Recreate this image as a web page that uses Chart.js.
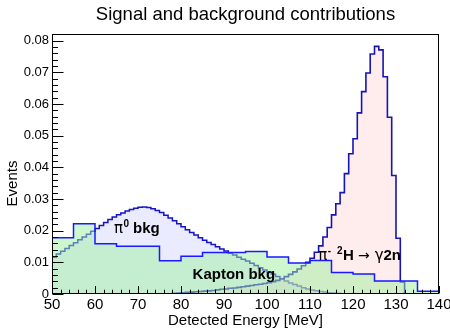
<!DOCTYPE html>
<html><head><meta charset="utf-8">
<script src="https://cdn.jsdelivr.net/npm/chart.js@4.4.1/dist/chart.umd.min.js"></script>
<style>html,body{margin:0;padding:0;background:#fff;}#wrap{width:450px;height:328px;}</style>
</head><body><div id="wrap"><canvas id="c" width="450" height="328"></canvas></div>
<script>
// ---- data (Events per bin) ----
const pi0BinStart = 50;   // MeV, 1 MeV bins
const pi0BinWidth = 1;
const pi0Values = [
  0.0116, 0.0126, 0.0135, 0.0144, 0.0153, 0.0162, 0.0171, 0.0180, 0.0189, 0.0198,
  0.0207, 0.0216, 0.0226, 0.0235, 0.0243, 0.0250, 0.0256, 0.0262, 0.0267, 0.0271,
  0.0274, 0.0275, 0.0273, 0.0269, 0.0264, 0.0257, 0.0249, 0.0240, 0.0231, 0.0222,
  0.0212, 0.0203, 0.0194, 0.0186, 0.0178, 0.0170, 0.0163, 0.0156, 0.0149, 0.0142,
  0.0136, 0.0129, 0.0123, 0.0116, 0.0110, 0.0104, 0.0097, 0.0090, 0.0083, 0.0076,
  0.0069, 0.0062, 0.0055, 0.0048, 0.0041, 0.0035, 0.0030, 0.0025, 0.0020, 0.0016,
  0.0013, 0.0010, 0.0008, 0.0006, 0.0004, 0.0003, 0.0002, 0.0001, 0.0001, 0.0001
];
const signalBinStart = 78; // MeV, 1 MeV bins
const signalBinWidth = 1;
const signalValues = [
  0.0002, 0.0003, 0.0004, 0.0005, 0.0006, 0.0007, 0.0008, 0.0009, 0.0010, 0.0011,
  0.0013, 0.0015, 0.0016, 0.0018, 0.0019, 0.0021, 0.0023, 0.0025, 0.0027, 0.0029,
  0.0031, 0.0033, 0.0036, 0.0039, 0.0043, 0.0048, 0.0055, 0.0062, 0.0070, 0.0079,
  0.0089, 0.0100, 0.0113, 0.0132, 0.0152, 0.0180, 0.0210, 0.0250, 0.0285, 0.0320,
  0.0380, 0.0443, 0.0490, 0.0572, 0.0639, 0.0698, 0.0758, 0.0782, 0.0771, 0.0686,
  0.0558, 0.0374, 0.0176, 0.0038
];
const kaptonBinStart = 50; // MeV, 5 MeV bins
const kaptonBinWidth = 5;
const kaptonValues = [
  0.0178, 0.0222, 0.0159, 0.0151, 0.0151, 0.0105, 0.0119, 0.0131, 0.0131,
  0.0134, 0.0117, 0.0098, 0.0106, 0.0068, 0.0063, 0.0041, 0.0041, 0.0009
];
const xTicks = [50, 60, 70, 80, 90, 100, 110, 120, 130, 140];
const xTickLabels = ['50', '60', '70', '80', '90', '100', '110', '120', '130', '140'];
const yTicks = [0, 0.01, 0.02, 0.03, 0.04, 0.05, 0.06, 0.07, 0.08];
const yTickLabels = ['0', '0.01', '0.02', '0.03', '0.04', '0.05', '0.06', '0.07', '0.08'];

function histPoints(start, width, values) {
  const pts = [{x: start, y: 0}];
  values.forEach((v, i) => pts.push({x: start + i * width, y: v}));
  pts.push({x: start + values.length * width, y: 0});
  return pts;
}

const FONT = "'Liberation Sans', Arial, Helvetica, sans-serif";
const SYM = "'DejaVu Sans', 'Liberation Sans', sans-serif";

function drawRich(ctx, x, y, parts) {
  for (const p of parts) {
    ctx.font = p.font;
    ctx.fillText(p.t, x, y - (p.dy || 0));
    x += ctx.measureText(p.t).width + (p.gap || 0);
  }
}

const rootFrame = {
  id: 'rootFrame',
  afterDatasetsDraw(chart) {
    const {ctx, chartArea: a, scales: {x, y}} = chart;
    ctx.save();
    ctx.strokeStyle = '#000';
    ctx.lineWidth = 1;
    const L = Math.round(a.left) + 0.5, R = Math.round(a.right) - 0.5;
    const T = Math.round(a.top) + 0.5, B = Math.round(a.bottom) - 0.5;
    ctx.strokeRect(L, T, R - L, B - T);
    ctx.beginPath();
    // x ticks (inward), every 2 MeV, major every 10
    for (let k = 25; k <= 70; k++) {
      const px = Math.round(x.getPixelForValue(2 * k)) + 0.5;
      const len = (k % 5 === 0) ? 7.5 : 3.8;
      ctx.moveTo(px, B); ctx.lineTo(px, B - len);
    }
    // y ticks (inward), every 0.002, major every 0.01
    for (let k = 0; k <= 41; k++) {
      const py = Math.round(y.getPixelForValue(k * 0.002)) + 0.5;
      const len = (k % 5 === 0) ? 11 : 5.5;
      ctx.moveTo(L, py); ctx.lineTo(L + len, py);
    }
    ctx.stroke();

    // annotations
    ctx.fillStyle = '#000';
    ctx.textAlign = 'left';
    ctx.textBaseline = 'alphabetic';
    drawRich(ctx, x.getPixelForValue(64.4), y.getPixelForValue(0.0192), [
      {t: 'π', font: '15px ' + SYM, gap: 0.5},
      {t: '0', font: 'bold 10px ' + FONT, dy: 6, gap: 4},
      {t: 'bkg', font: 'bold 15px ' + FONT}
    ]);
    drawRich(ctx, x.getPixelForValue(82.7), y.getPixelForValue(0.0048), [
      {t: 'Kapton bkg', font: 'bold 15px ' + FONT}
    ]);
    drawRich(ctx, x.getPixelForValue(111.9), y.getPixelForValue(0.0108), [
      {t: 'π', font: '15px ' + SYM, gap: 0.5},
      {t: '-', font: 'bold 10px ' + FONT, dy: 6, gap: 6},
      {t: '2', font: 'bold 10px ' + FONT, dy: 6, gap: 0.5},
      {t: 'H', font: 'bold 15px ' + FONT, gap: 4},
      {t: '→', font: '14px ' + SYM, gap: 5},
      {t: 'γ', font: '15px ' + SYM},
      {t: '2n', font: 'bold 15px ' + FONT}
    ]);
    // y axis title
    ctx.save();
    ctx.translate(a.left - 39, 183.5);
    ctx.rotate(-Math.PI / 2);
    ctx.textAlign = 'center';
    ctx.textBaseline = 'middle';
    ctx.font = '15px ' + FONT;
    ctx.fillText('Events', 0, 0);
    ctx.restore();
    ctx.restore();
  }
};

new Chart(document.getElementById('c'), {
  type: 'line',
  data: {
    datasets: [
      {
        label: 'Kapton bkg',
        data: histPoints(kaptonBinStart, kaptonBinWidth, kaptonValues),
        stepped: true, fill: 'origin',
        backgroundColor: 'rgba(160,240,160,0.5)',
        borderColor: '#1a1aff', borderWidth: 1.5,
        pointRadius: 0, order: 0
      },
      {
        label: 'signal',
        data: histPoints(signalBinStart, signalBinWidth, signalValues),
        stepped: true, fill: 'origin',
        backgroundColor: 'rgba(255,200,200,0.35)',
        borderColor: '#1515b5', borderWidth: 1.6,
        pointRadius: 0, order: 1
      },
      {
        label: 'pi0 bkg',
        data: histPoints(pi0BinStart, pi0BinWidth, pi0Values),
        stepped: true, fill: 'origin',
        backgroundColor: 'rgba(205,205,255,0.4)',
        borderColor: '#1414c8', borderWidth: 1.5,
        pointRadius: 0, order: 2
      }
    ]
  },
  options: {
    responsive: false,
    animation: false,
    devicePixelRatio: 1,
    layout: {padding: {left: 0, right: 11, top: 0, bottom: 0}},
    plugins: {
      legend: {display: false},
      tooltip: {enabled: false},
      title: {
        display: true, text: 'Signal and background contributions', fullSize: false,
        color: '#000', font: {family: FONT, size: 18.5, weight: 'normal', lineHeight: 1.2},
        padding: {top: 4, bottom: 7.8}
      }
    },
    scales: {
      x: {
        type: 'linear', min: 50, max: 140,
        grid: {display: false, drawTicks: false}, border: {display: false},
        ticks: {color: '#000', font: {family: FONT, size: 15}, padding: 2, autoSkip: false, maxRotation: 0,
                callback: (v, i) => xTickLabels[i]},
        afterBuildTicks: s => { s.ticks = xTicks.map(v => ({value: v})); },
        afterFit: s => { s.height = 34; s.paddingLeft = 0; s.paddingRight = 0; },
        title: {display: true, text: 'Detected Energy [MeV]', color: '#000',
                font: {family: FONT, size: 15, lineHeight: 1}, padding: {top: 0, bottom: 0}}
      },
      y: {
        type: 'linear', min: 0, max: 0.0821,
        grid: {display: false, drawTicks: false}, border: {display: false},
        ticks: {color: '#000', font: {family: FONT, size: 13}, padding: 3, autoSkip: false,
                callback: (v, i) => yTickLabels[i]},
        afterBuildTicks: s => { s.ticks = yTicks.map(v => ({value: v})); },
        afterFit: s => { s.width = 52; s.paddingTop = 0; s.paddingBottom = 0; }
      }
    }
  },
  plugins: [rootFrame]
});
</script></body></html>
